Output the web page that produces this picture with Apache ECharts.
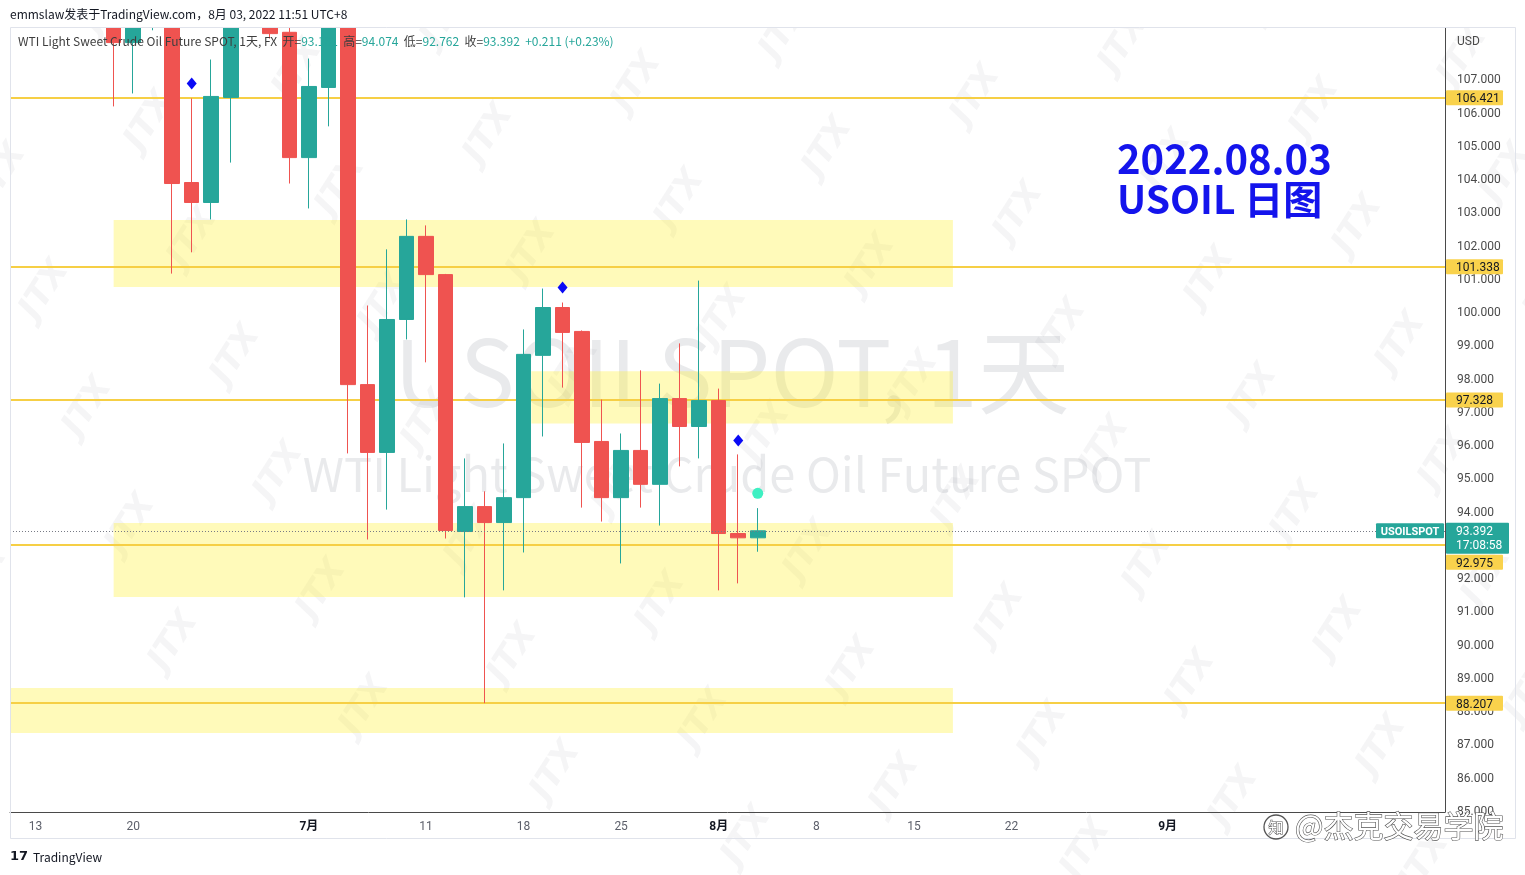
<!DOCTYPE html>
<html><head><meta charset="utf-8">
<script src="https://cdn.jsdelivr.net/npm/echarts@6/dist/echarts.min.js"></script>
<style>html,body{margin:0;padding:0;background:#fff}#c{width:1525px;height:875px}</style>
</head><body><div id="c"></div>
<script>
// ---- data (trading days, index 0 = 2022-06-13) ----
const dates = ['2022-06-13','2022-06-14','2022-06-15','2022-06-16','2022-06-17','2022-06-20','2022-06-21','2022-06-22','2022-06-23','2022-06-24','2022-06-27','2022-06-28','2022-06-29','2022-06-30','2022-07-01','2022-07-04','2022-07-05','2022-07-06','2022-07-07','2022-07-08','2022-07-11','2022-07-12','2022-07-13','2022-07-14','2022-07-15','2022-07-18','2022-07-19','2022-07-20','2022-07-21','2022-07-22','2022-07-25','2022-07-26','2022-07-27','2022-07-28','2022-07-29','2022-08-01','2022-08-02','2022-08-03'];
const opens  = [120.1,120.9,118.9,115.3,117.6,108.08,109.6,110.0,103.87,103.27,106.43,109.2,111.3,108.39,104.62,106.73,108.8,97.79,95.75,99.75,102.25,101.10,93.37,94.12,93.64,94.39,98.67,100.11,99.39,96.08,94.39,95.81,94.79,97.37,96.53,97.31,93.31,93.181];
const closes = [120.9,118.9,115.3,117.6,108.08,109.9,110.6,103.84,103.27,106.46,109.2,111.3,108.35,104.62,106.76,108.8,97.79,95.75,99.75,102.25,101.10,93.40,94.12,93.64,94.39,98.70,100.11,99.36,96.05,94.39,95.81,94.79,97.37,96.53,97.31,93.31,93.181,93.392];
const lows   = [118.0,117.1,114.2,113.6,106.16,106.55,108.45,101.13,101.77,102.76,104.47,108.9,108.2,103.84,103.09,105.56,95.72,93.13,94.03,99.15,98.46,93.16,91.39,88.207,91.60,92.74,96.23,97.70,94.09,93.67,92.41,94.09,93.55,95.33,95.57,91.60,91.81,92.762];
const highs  = [122.0,121.3,119.5,118.1,118.4,110.4,111.2,110.8,106.40,107.57,109.8,112.0,111.8,109.2,107.60,109.3,109.1,100.17,101.86,102.76,102.58,101.12,95.57,94.58,96.02,99.45,100.68,100.26,99.42,97.34,96.32,98.22,97.82,99.03,100.92,97.67,95.69,94.074];

const tickIdx    = [0, 5, 14, 20, 25, 30, 35, 40, 45, 50, 58];
const tickLabels = ['13','20','7月','11','18','25','8月','8','15','22','9月'];
const priceTicks = [85,86,87,88,89,90,91,92,93,94,95,96,97,98,99,100,101,102,103,104,105,106,107];

const levels = [106.421, 101.338, 97.328, 92.975, 88.207];
const xMin = -1.31, xMax = 72.21, yMin = 84.932, yMax = 108.519;
// zones: [fromIdx, toIdx, topPrice, bottomPrice]
const zones = [[4, 47, 102.74, 100.73], [25.4, 47, 98.19, 96.62], [4, 47, 93.63, 91.40], [xMin, 47, 88.66, 87.31]];

const signalIdx = [8, 27, 36];
const signalVals = [106.85, 100.71, 96.11];
const dotIdx = [37];
const dotVals = [94.52];

const lastPrice = 93.392, lastTime = '17:08:58';
const legendVals = ['93.181', '94.074', '92.762', '93.392', '+0.211 (+0.23%)'];

// ---- chart ----
const UP = '#26a69a', DOWN = '#ef5350', LVL = '#f6cf45';
const FONT = 'Roboto, "Noto Sans CJK SC", sans-serif';
const chart = echarts.init(document.getElementById('c'), null, {renderer: 'canvas'});

const candleData = dates.map((d, i) => [i, opens[i], closes[i], lows[i], highs[i]]);

chart.setOption({
  animation: false,
  backgroundColor: '#ffffff',
  grid: {left: 10, right: 80, top: 28, bottom: 63, containLabel: false},
  xAxis: {
    type: 'value', min: xMin, max: xMax,
    axisLine: {show: true, onZero: false, lineStyle: {color: '#4a4a4a', width: 1}},
    axisTick: {show: false}, splitLine: {show: false},
    axisLabel: {
      customValues: tickIdx, margin: 9, fontSize: 12, color: '#5d606b', fontFamily: FONT,
      formatter: v => { const k = tickIdx.indexOf(Math.round(v)); const s = k >= 0 ? tickLabels[k] : ''; return s.indexOf('月') >= 0 ? '{m|' + s + '}' : s; },
      rich: {m: {fontWeight: 'bold', color: '#131722', fontSize: 12, fontFamily: FONT}}
    }
  },
  yAxis: {
    type: 'value', position: 'right', min: yMin, max: yMax, scale: true,
    axisLine: {show: true, onZero: false, lineStyle: {color: '#4a4a4a', width: 1}},
    axisTick: {show: false}, splitLine: {show: false},
    axisLabel: {customValues: priceTicks, margin: 12, fontSize: 12, color: '#4a4a4a', fontFamily: FONT,
      formatter: v => '{p|' + v.toFixed(3) + '}',
      rich: {p: {fontSize: 12, color: '#4a4a4a', fontFamily: FONT, padding: [4, 0, 0, 0]}}}
  },
  series: [
    {
      type: 'line', data: [], silent: true,
      markArea: {silent: true, z: 1.2, itemStyle: {color: 'rgba(255,238,40,0.32)'},
        data: zones.map(z => [{xAxis: z[0], yAxis: z[2]}, {xAxis: z[1], yAxis: z[3]}])},
      markLine: {silent: true, z: 1.8, symbol: ['none', 'none'], label: {show: false},
        lineStyle: {color: LVL, width: 2, type: 'solid'},
        data: levels.map(v => ({yAxis: v}))}
    },
    {
      type: 'candlestick', data: candleData, barWidth: 15, clip: true, z: 2,
      itemStyle: {color: UP, color0: DOWN, borderColor: UP, borderColor0: DOWN, borderWidth: 1},
      markLine: {silent: true, symbol: ['none', 'none'], label: {show: false},
        lineStyle: {color: '#787b86', width: 1, type: [1, 2]},
        data: [{yAxis: lastPrice}]}
    },
    {
      type: 'scatter', z: 3, symbol: 'diamond', symbolSize: [10, 12],
      itemStyle: {color: '#0a0af5', opacity: 1},
      data: signalIdx.map((x, i) => [x, signalVals[i]])
    },
    {
      type: 'scatter', z: 3, symbol: 'circle', symbolSize: 11,
      itemStyle: {color: '#3ef0c2', opacity: 1},
      data: dotIdx.map((x, i) => [x, dotVals[i]])
    }
  ]
});

// ---- decorations / tags ----
const G = [];
// JTX watermark lattice
let n = 0;
for (let i = -8; i <= 8; i++) {
  for (let j = -8; j <= 8; j++) {
    const x = 785 + i * 43 + j * 191, y = 30 + i * 117 + j * 65;
    if (x < -30 || x > 1560 || y < -30 || y > 900) continue;
    G.push({type: 'text', id: 'jtx' + (n++), x: x, y: y, rotation: 1.0, z: -1, silent: true,
      style: {text: 'JTX', fill: 'rgba(60,60,70,0.05)', font: 'italic bold 34px "DejaVu Sans"', align: 'center', verticalAlign: 'middle'}});
  }
}
// big symbol watermark
G.push({type: 'text', id: 'wm1', x: 732, y: 372, z: -1, silent: true,
  style: {text: 'USOILSPOT, 1天', fill: 'rgba(110,115,130,0.15)', font: '92px "Noto Sans CJK SC"', align: 'center', verticalAlign: 'middle'}});
G.push({type: 'text', id: 'wm2', x: 727, y: 474, z: -1, silent: true,
  style: {text: 'WTI Light Sweet Crude Oil Future SPOT', fill: 'rgba(110,115,130,0.15)', font: '47px "Noto Sans CJK SC"', align: 'center', verticalAlign: 'middle'}});
// cover overflow above plot
G.push({type: 'rect', id: 'topcover', z: 40, silent: true, shape: {x: 0, y: 0, width: 1525, height: 27.5}, style: {fill: '#ffffff'}});
// frame
G.push({type: 'rect', id: 'frame', z: 50, silent: true, shape: {x: 10.5, y: 27.5, width: 1505, height: 811},
  style: {fill: null, stroke: '#e0e3eb', lineWidth: 1}});
// header
G.push({type: 'text', id: 'hdr', x: 10, y: 14, z: 100, style: {text: 'emmslaw发表于TradingView.com，8月 03, 2022 11:51 UTC+8', fill: '#131722', font: '12px "Noto Sans CJK SC"', verticalAlign: 'middle'}});
G.push({type: 'text', id: 'leg', x: 18, y: 41, z: 100, style: {
  text: '{n|WTI Light Sweet Crude Oil Future SPOT, 1天, FX}  {k|开=}{v|' + legendVals[0] + '}  {k|高=}{v|' + legendVals[1] + '}  {k|低=}{v|' + legendVals[2] + '}  {k|收=}{v|' + legendVals[3] + '}  {v|' + legendVals[4] + '}',
  verticalAlign: 'middle', font: '12px "Noto Sans CJK SC"',
  rich: {n: {fill: '#3e3e3e', font: '12px "Noto Sans CJK SC"'}, k: {fill: '#3e3e3e', font: '12px "Noto Sans CJK SC"'}, v: {fill: UP, font: '12px "Noto Sans CJK SC"'}}}});
// title
G.push({type: 'text', id: 't1', x: 1117, y: 159, z: 100, style: {text: '2022.08.03', fill: '#1414ec', font: 'bold 40px "Noto Sans CJK SC"', verticalAlign: 'middle'}});
G.push({type: 'text', id: 't2', x: 1117, y: 199, z: 100, style: {text: 'USOIL 日图', fill: '#1414ec', font: 'bold 39px "Noto Sans CJK SC"', verticalAlign: 'middle'}});
// USD
G.push({type: 'text', id: 'usd', x: 1457, y: 42, z: 100, style: {text: 'USD', fill: '#4a4a4a', font: '12px ' + FONT, verticalAlign: 'middle'}});
// current price tags
const py = chart.convertToPixel({yAxisIndex: 0}, lastPrice);
G.push({type: 'rect', id: 'cpr', z: 110, shape: {x: 1446, y: py - 8, width: 63, height: 31, r: 1}, style: {fill: UP}});
G.push({type: 'text', id: 'cpt', x: 1456, y: py + 1.5, z: 111, style: {text: lastPrice.toFixed(3), fill: '#fff', font: '12px ' + FONT, verticalAlign: 'middle'}});
G.push({type: 'text', id: 'cpt2', x: 1456, y: py + 15.5, z: 111, style: {text: lastTime, fill: '#fff', font: '12px ' + FONT, verticalAlign: 'middle'}});
G.push({type: 'rect', id: 'snr', z: 110, shape: {x: 1376, y: py - 7.5, width: 68, height: 15, r: 1}, style: {fill: UP}});
G.push({type: 'text', id: 'snt', x: 1410, y: py + 1, z: 111, style: {text: 'USOILSPOT', fill: '#fff', font: 'bold 11px ' + FONT, align: 'center', verticalAlign: 'middle'}});
// level tags
levels.forEach((v, i) => {
  let y = chart.convertToPixel({yAxisIndex: 0}, v);
  if (y + 7.5 > py - 8 && y - 7.5 < py + 23) y = py + 23 + 8.5;
  G.push({type: 'rect', id: 'lr' + i, z: 105, shape: {x: 1446, y: y - 7.5, width: 57, height: 15, r: 1}, style: {fill: '#f9d24c'}});
  G.push({type: 'text', id: 'lt' + i, x: 1456, y: y + 1.5, z: 106, style: {text: v.toFixed(3), fill: '#131722', font: '12px ' + FONT, verticalAlign: 'middle'}});
});
// footer
G.push({type: 'text', id: 'tvl', x: 10, y: 857, z: 100, style: {text: '17', fill: '#131722', font: '900 13px "DejaVu Sans"', verticalAlign: 'middle'}});
G.push({type: 'text', id: 'tvt', x: 33, y: 857, z: 100, style: {text: 'TradingView', fill: '#131722', font: '12px "Noto Sans CJK SC"', verticalAlign: 'middle'}});
// zhihu watermark
G.push({type: 'circle', id: 'zhc', z: 120, shape: {cx: 1276, cy: 827, r: 12}, style: {fill: null, stroke: '#555', lineWidth: 1.3}});
G.push({type: 'text', id: 'zhz', x: 1276, y: 827, z: 121, style: {text: '知', fill: '#fff', stroke: '#555', lineWidth: 1, font: '15px "Noto Sans CJK SC"', align: 'center', verticalAlign: 'middle'}});
G.push({type: 'text', id: 'zht', x: 1295, y: 826, z: 120, style: {text: '@杰克交易学院', fill: '#ffffff', stroke: '#555', lineWidth: 1.2, font: '30px "Noto Sans CJK SC"', verticalAlign: 'middle'}});

chart.setOption({graphic: G});
</script>
</body></html>
